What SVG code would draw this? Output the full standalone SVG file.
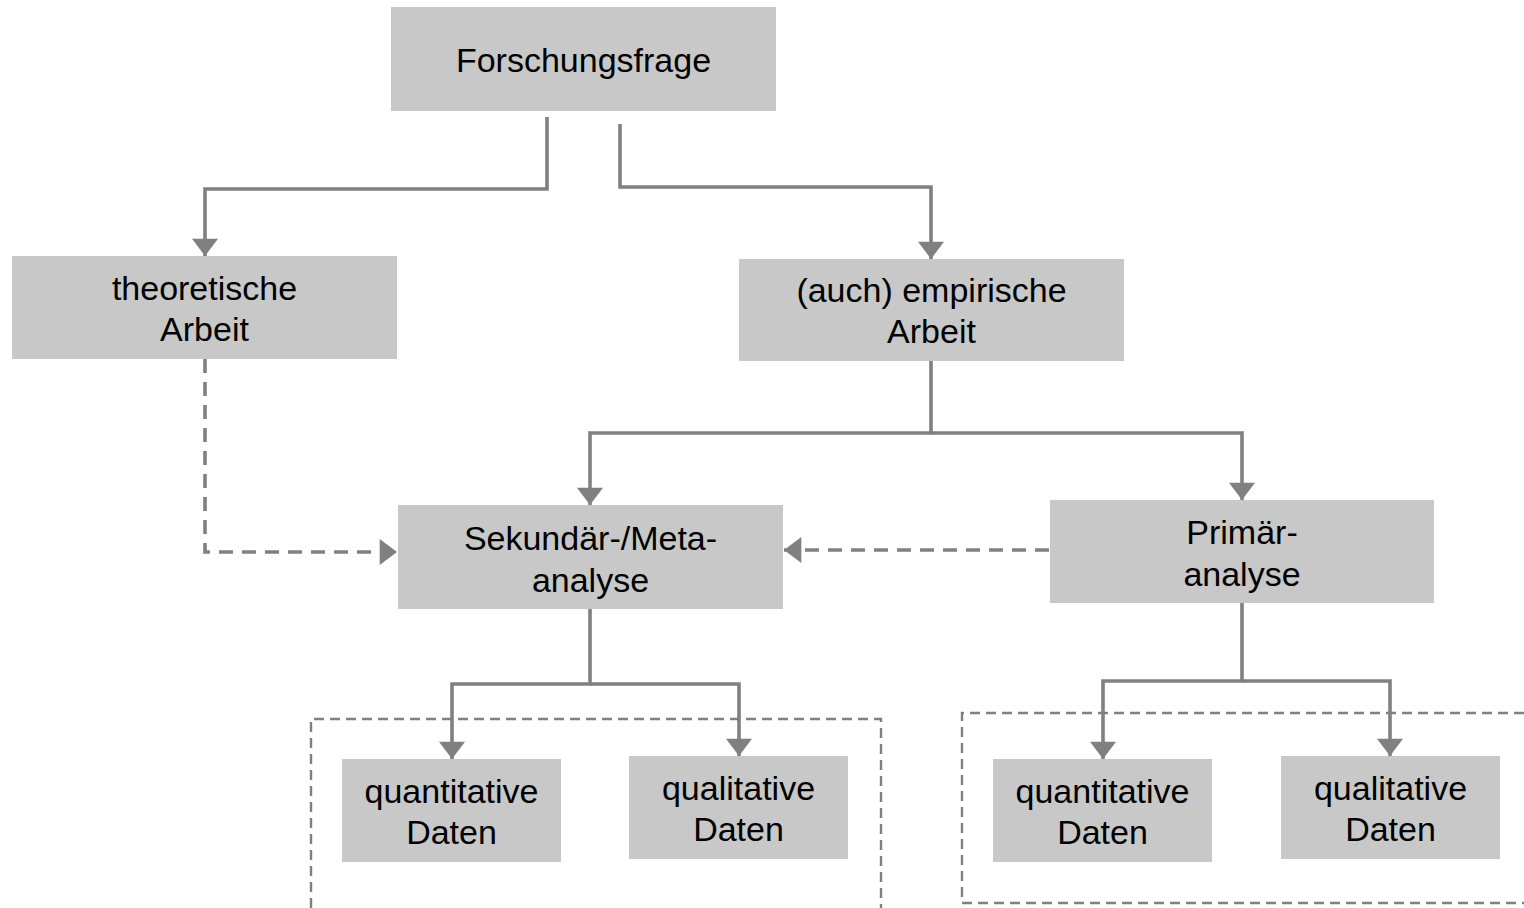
<svg xmlns="http://www.w3.org/2000/svg" width="1524" height="908" viewBox="0 0 1524 908">
<defs>
<style>
.box{fill:#c8c8c8}
.t{font-family:"Liberation Sans",Arial,sans-serif;font-size:34px;fill:#000;text-anchor:middle}
.c{fill:none;stroke:#808080;stroke-width:3.6}
.d{fill:none;stroke:#808080;stroke-width:3.6;stroke-dasharray:14 9}
.g{fill:none;stroke:#808080;stroke-width:2.4;stroke-dasharray:10 6}
</style>
<marker id="ah" markerUnits="userSpaceOnUse" markerWidth="26" markerHeight="26" viewBox="0 0 16 24" refX="16" refY="12" orient="auto">
<path d="M0,0 L16,12 L0,24 Z" fill="#808080"/>
</marker>
</defs>
<rect width="1524" height="908" fill="#fff"/>
<g id="groups">
<path class="g" d="M311,908 V719 H881 V908"/>
<path class="g" d="M1524,713 H962 V903 H1524"/>
</g>
<g id="connectors">
<path class="c" d="M547,117 V189 H205 V256" marker-end="url(#ah)"/>
<path class="c" d="M620,124 V187 H931 V259" marker-end="url(#ah)"/>
<path class="c" d="M931,361 V433 H590 V505" marker-end="url(#ah)"/>
<path class="c" d="M931,433 H1242 V500" marker-end="url(#ah)"/>
<path class="d" d="M205,359 V552 H397" marker-end="url(#ah)"/>
<path class="d" d="M1049,550 H784" marker-end="url(#ah)"/>
<path class="c" d="M590,609 V684 H452 V759" marker-end="url(#ah)"/>
<path class="c" d="M590,684 H739 V756" marker-end="url(#ah)"/>
<path class="c" d="M1242,603 V681 H1103 V759" marker-end="url(#ah)"/>
<path class="c" d="M1242,681 H1390 V756" marker-end="url(#ah)"/>
</g>
<g id="n-forschungsfrage"><rect class="box" x="391" y="7" width="385" height="104"/><text class="t" x="583.5" y="72">Forschungsfrage</text></g>
<g id="n-theoretisch"><rect class="box" x="12" y="256" width="385" height="103"/><text class="t" x="204.5" y="300">theoretische</text><text class="t" x="204.5" y="341">Arbeit</text></g>
<g id="n-empirisch"><rect class="box" x="739" y="259" width="385" height="102"/><text class="t" x="931.5" y="302">(auch) empirische</text><text class="t" x="931.5" y="343">Arbeit</text></g>
<g id="n-sekundaer"><rect class="box" x="398" y="505" width="385" height="104"/><text class="t" x="590.5" y="550">Sekundär-/Meta-</text><text class="t" x="590.5" y="592">analyse</text></g>
<g id="n-primaer"><rect class="box" x="1050" y="500" width="384" height="103"/><text class="t" x="1242" y="544">Primär-</text><text class="t" x="1242" y="586">analyse</text></g>
<g id="n-quant1"><rect class="box" x="342" y="759" width="219" height="103"/><text class="t" x="451.5" y="803">quantitative</text><text class="t" x="451.5" y="844">Daten</text></g>
<g id="n-qual1"><rect class="box" x="629" y="756" width="219" height="103"/><text class="t" x="738.5" y="800">qualitative</text><text class="t" x="738.5" y="841">Daten</text></g>
<g id="n-quant2"><rect class="box" x="993" y="759" width="219" height="103"/><text class="t" x="1102.5" y="803">quantitative</text><text class="t" x="1102.5" y="844">Daten</text></g>
<g id="n-qual2"><rect class="box" x="1281" y="756" width="219" height="103"/><text class="t" x="1390.5" y="800">qualitative</text><text class="t" x="1390.5" y="841">Daten</text></g>
</svg>
